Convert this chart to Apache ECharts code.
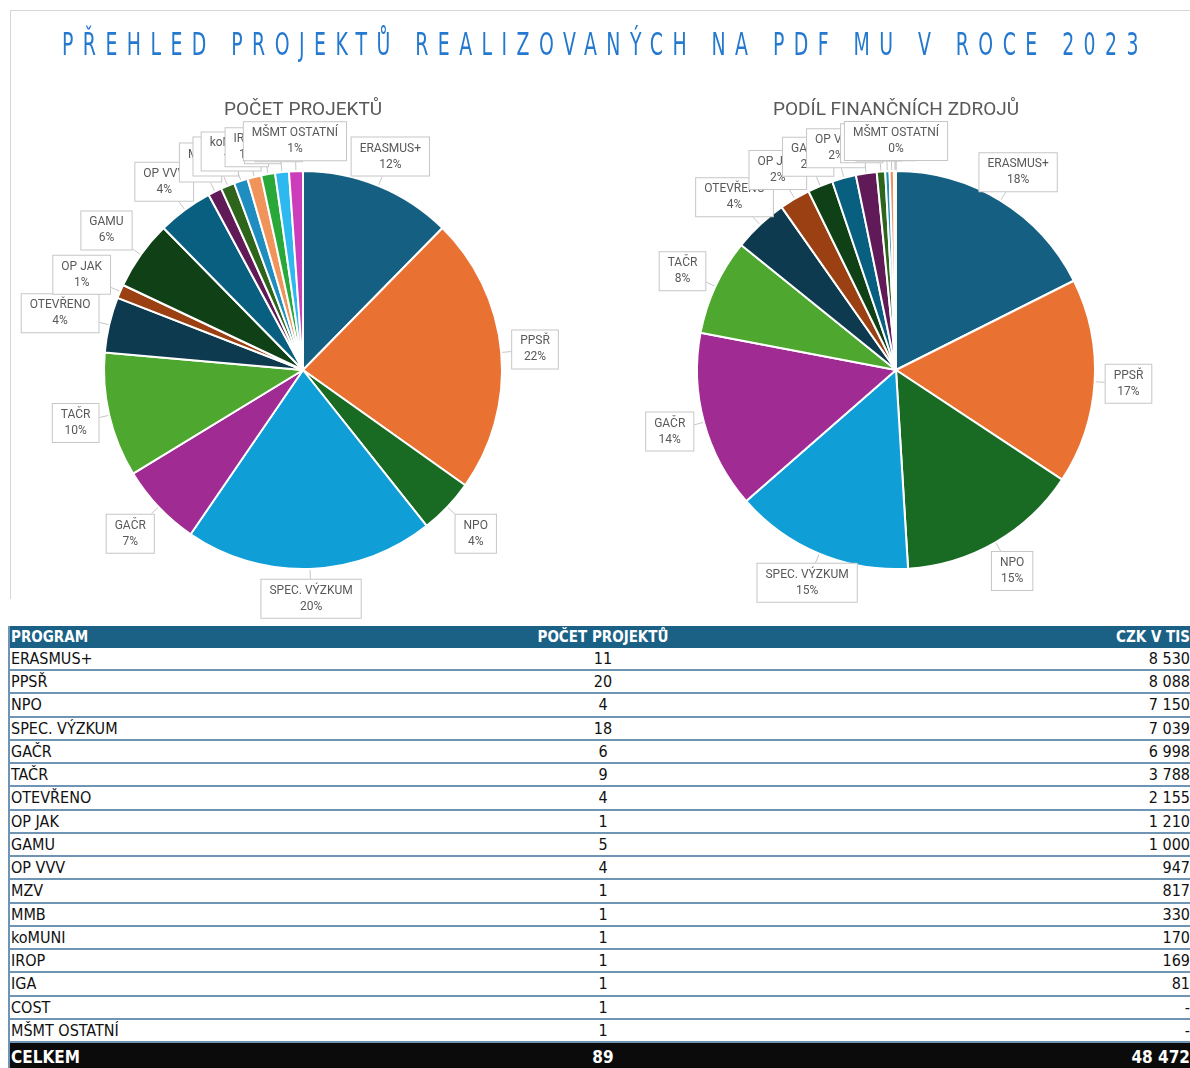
<!DOCTYPE html>
<html>
<head>
<meta charset="utf-8">
<title>Přehled projektů PdF MU 2023</title>
<script src="https://cdn.jsdelivr.net/npm/echarts@6/dist/echarts.min.js"></script>
<style>
  body { margin: 0; background: #fff; }
  .stranka { position: relative; width: 1190px; height: 1068px; overflow: hidden; }
  .ramecek { position: absolute; left: 10px; top: 10px; width: 1190px; height: 588px;
    border-top: 1px solid #d6d6d6; border-left: 1px solid #d6d6d6; }
  .nadpis { position: absolute; left: 62px; top: 28px; line-height: 32px; font-size: 32px;
    font-family: "Liberation Sans Narrow", "DejaVu Sans Condensed", sans-serif;
    letter-spacing: 0.45em; color: #2479cf; white-space: nowrap; transform-origin: 0 0; }
  #grafy { position: absolute; left: 0; top: 0; width: 1190px; height: 622px; }
  .tabulka { position: absolute; left: 8px; top: 626px; width: 1180px; border-left: 2px solid #6f94b4;
    font-family: "Liberation Sans Narrow", "DejaVu Sans Condensed", sans-serif; font-size: 16px; color: #111; }
  .radek { position: relative; height: 23.24px; box-sizing: border-box; border-bottom: 2px solid #6f94b4; }
  .radek span { position: absolute; top: 0; line-height: 22px; white-space: nowrap; }
  .c1 { left: 1px; }
  .c2 { left: 593px; transform: translateX(-50%); }
  .c3 { right: 0; }
  .hlavicka { height: 22px; background: #1a6185; color: #fff; font-weight: bold; border-bottom: none; font-size: 15px; }
  .celkem { height: 26px; background: #0b0b0b; color: #fff; font-weight: bold; border-bottom: none; font-size: 17px; }
  .celkem span { line-height: 28px; }
</style>
</head>
<body>
<div class="stranka">
  <div class="ramecek"></div>
  <div id="grafy"></div>
  <div class="nadpis" id="nadpis">PŘEHLED PROJEKTŮ REALIZOVANÝCH NA PDF MU V ROCE 2023</div>
  <div class="tabulka" id="tabulka"></div>
</div>
<script>
const programy = ['ERASMUS+', 'PPSŘ', 'NPO', 'SPEC. VÝZKUM', 'GAČR', 'TAČR', 'OTEVŘENO', 'OP JAK', 'GAMU',
  'OP VVV', 'MZV', 'MMB', 'koMUNI', 'IROP', 'IGA', 'COST', 'MŠMT OSTATNÍ'];
const pocetProjektu = [11, 20, 4, 18, 6, 9, 4, 1, 5, 4, 1, 1, 1, 1, 1, 1, 1];
// CZK v tis., COST a MŠMT ostatní jsou v tabulce "-"
const czkTis = [8530, 8088, 7150, 7039, 6998, 3788, 2155, 1210, 1000, 947, 817, 330, 170, 169, 81, 0, 0];
const barvy = ['#156082', '#E97132', '#196B24', '#0F9ED5', '#A02B93', '#4EA72E',
  '#0D3A4E', '#9A4013', '#0F4016', '#095F80', '#601A58', '#2F641C',
  '#1F8DBF', '#F0945C', '#28A838', '#2DB9F0', '#CB3DBB'];

// nadpis roztáhnout na šířku jako v originále
const nadpis = document.getElementById('nadpis');
nadpis.style.transform = 'scaleX(' + (1086 / nadpis.getBoundingClientRect().width) + ')';

// tabulka
function cislo(v) {
  if (!v) return '-';
  return String(v).replace(/\B(?=(\d{3})+(?!\d))/g, '\u00a0');
}
function radek(cls, a, b, c) {
  return '<div class="radek ' + cls + '"><span class="c1">' + a + '</span><span class="c2">' + b +
    '</span><span class="c3">' + c + '</span></div>';
}
const soucet = arr => arr.reduce((x, y) => x + y, 0);
let html = radek('hlavicka', 'PROGRAM', 'POČET PROJEKTŮ', 'CZK V TIS');
programy.forEach((p, i) => { html += radek('', p, pocetProjektu[i], cislo(czkTis[i])); });
html += radek('celkem', 'CELKEM', soucet(pocetProjektu), cislo(soucet(czkTis)));
document.getElementById('tabulka').innerHTML = html;

// grafy
const myChart = echarts.init(document.getElementById('grafy'));

function popisek(hodnoty) {
  const celkem = soucet(hodnoty);
  return p => '{t|' + p.name + '}\n{t|' + Math.round(hodnoty[p.dataIndex] / celkem * 100) + '%}';
}

// popisek jako v Excelu: rámeček na paprsku výseče, kousek za okrajem
function umisteni(p) {
  const body = p.labelLinePoints;
  if (!body) return { hideOverlap: false };
  const a = body[0], b = body[1];
  let dx = b[0] - a[0], dy = b[1] - a[1];
  const d = Math.hypot(dx, dy) || 1;
  dx /= d; dy /= d;
  const w = p.labelRect.width / 2, h = p.labelRect.height / 2;
  const dosah = Math.min(Math.abs(dx) > 1e-6 ? w / Math.abs(dx) : Infinity,
    Math.abs(dy) > 1e-6 ? h / Math.abs(dy) : Infinity);
  const mezera = 10;
  const kraj = [a[0] + dx * mezera, a[1] + dy * mezera];
  return {
    x: a[0] + dx * (mezera + dosah),
    y: a[1] + dy * (mezera + dosah),
    align: 'center',
    verticalAlign: 'middle',
    hideOverlap: false,
    labelLinePoints: [a, kraj, kraj]
  };
}

function kolac(hodnoty, stred) {
  return {
    type: 'pie',
    center: stred,
    radius: 199,
    startAngle: 90,
    clockwise: true,
    avoidLabelOverlap: false,
    data: programy.map((p, i) => ({ name: p, value: hodnoty[i] })),
    itemStyle: { borderColor: '#fff', borderWidth: 2 },
    label: {
      show: true,
      position: 'outside',
      distanceToLabelLine: 0,
      formatter: popisek(hodnoty),
      color: '#595959',
      fontSize: 12,
      fontFamily: 'Roboto',
      lineHeight: 16,
      backgroundColor: '#fff',
      borderColor: '#c6c6c6',
      borderWidth: 1,
      padding: [3, 8],
      rich: { t: { align: 'center', color: '#595959', fontSize: 12, fontFamily: 'Roboto', lineHeight: 16 } }
    },
    labelLine: { show: true, length: 20, length2: 0, lineStyle: { color: '#c6c6c6', width: 1 } },
    labelLayout: umisteni,
    emphasis: { disabled: true }
  };
}

const option = {
  animation: false,
  color: barvy,
  graphic: [
    { type: 'text', x: 303, y: 110, style: { text: 'POČET PROJEKTŮ', align: 'center', verticalAlign: 'middle',
      fill: '#595959', font: '19px Roboto' } },
    { type: 'text', x: 896, y: 110, style: { text: 'PODÍL FINANČNÍCH ZDROJŮ', align: 'center', verticalAlign: 'middle',
      fill: '#595959', font: '19px Roboto' } }
  ],
  series: [
    kolac(pocetProjektu, [303, 370]),
    kolac(czkTis, [896, 370])
  ]
};
myChart.setOption(option);
</script>
</body>
</html>
